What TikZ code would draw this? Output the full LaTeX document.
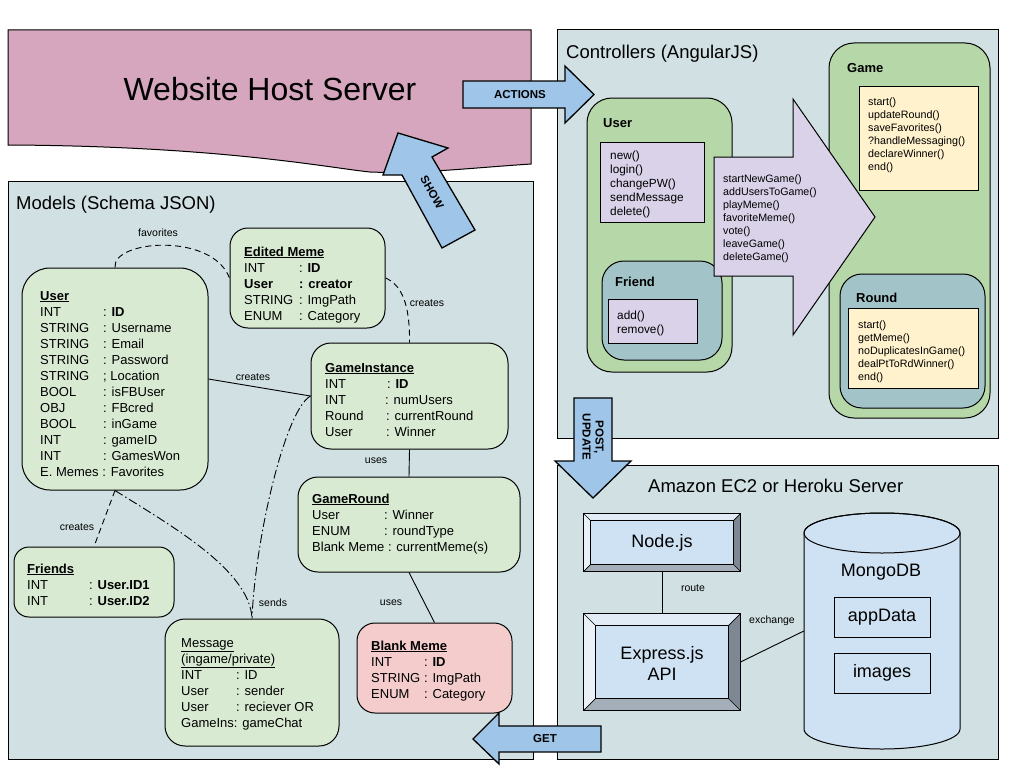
\documentclass[tikz,border=0pt]{standalone}
\usepackage{fontspec}
\setmainfont{Liberation Sans}
\usetikzlibrary{calc}
\definecolor{panelc}{HTML}{D0E0E3}
\definecolor{webc}{HTML}{D5A6BD}
\definecolor{mgreen}{HTML}{D9EAD3}
\definecolor{mpink}{HTML}{F4CCCC}
\definecolor{cgreen}{HTML}{B6D7A8}
\definecolor{cteal}{HTML}{A2C4C9}
\definecolor{cyellow}{HTML}{FFF2CC}
\definecolor{cpurple}{HTML}{D9D2E9}
\definecolor{arrowc}{HTML}{9FC5E8}
\definecolor{srvc}{HTML}{CFE2F3}
\definecolor{bvlight}{HTML}{E2ECF6}
\definecolor{bvlighter}{HTML}{EAF1F8}
\definecolor{bvdark}{HTML}{7D8893}
\definecolor{bvmid}{HTML}{A3AEB9}

\newcommand\fld[3]{\makebox[#1][l]{#2}#3}
\newcommand\rows[1]{\begin{tabular}[t]{@{}l@{}}#1\end{tabular}}
\newcommand\bevel[2]{%
 \fill[bvlight] (#1.north west) -- (#1.north east) -- ([shift={(-#2,#2)}]#1.north east) -- ([shift={(#2,#2)}]#1.north west) -- cycle;
 \fill[bvlighter] (#1.north west) -- ([shift={(#2,#2)}]#1.north west) -- ([shift={(#2,-#2)}]#1.south west) -- (#1.south west) -- cycle;
 \fill[bvdark] (#1.north east) -- (#1.south east) -- ([shift={(-#2,-#2)}]#1.south east) -- ([shift={(-#2,#2)}]#1.north east) -- cycle;
 \fill[bvmid] (#1.south west) -- (#1.south east) -- ([shift={(-#2,-#2)}]#1.south east) -- ([shift={(#2,-#2)}]#1.south west) -- cycle;
 \draw[line width=0.7pt] ([shift={(#2,#2)}]#1.north west) rectangle ([shift={(-#2,-#2)}]#1.south east);
 \draw[line width=0.7pt] (#1.north west) -- ([shift={(#2,#2)}]#1.north west)
   (#1.north east) -- ([shift={(-#2,#2)}]#1.north east)
   (#1.south west) -- ([shift={(#2,-#2)}]#1.south west)
   (#1.south east) -- ([shift={(-#2,-#2)}]#1.south east);
 \draw[line width=1pt] (#1.north west) rectangle (#1.south east);
}

\tikzset{
 panel/.style={draw=black, fill=panelc, line width=1pt, inner sep=0pt, rectangle},
 box/.style={draw=black, line width=1pt, inner sep=0pt, rectangle},
 mbox/.style={box, fill=mgreen, rounded corners=18pt},
 fields/.style={inner sep=0pt, anchor=base west, font=\fontsize{13}{16}\selectfont},
 ptitle/.style={inner sep=0pt, anchor=base west, font=\fontsize{18.5}{22}\selectfont},
 lbl/.style={inner sep=0pt, font=\fontsize{10.5}{12}\selectfont},
 fn/.style={inner sep=0pt, anchor=base west, font=\fontsize{10.7}{13}\selectfont},
 fnb/.style={inner sep=0pt, anchor=base west, font=\fontsize{11.8}{14}\selectfont},
 ctitle/.style={inner sep=0pt, anchor=base west, font=\fontsize{13}{15}\selectfont\bfseries},
 arr/.style={draw=black, fill=arrowc, line width=1.3pt, line join=miter},
 arrtxt/.style={inner sep=0pt, font=\fontsize{11.5}{13}\selectfont\bfseries},
 conn/.style={draw=black, line width=0.9pt},
 dashconn/.style={conn, dash pattern=on 6pt off 4pt},
 dotdash/.style={conn, dash pattern=on 9pt off 3pt on 1.5pt off 3pt},
 bigtxt/.style={font=\fontsize{18}{21}\selectfont, align=center, inner sep=0pt},
}

\begin{document}
\begin{tikzpicture}[x=1pt,y=-1pt]
\useasboundingbox (0,0) rectangle (1024,768);
\fill[white] (0,0) rectangle (1024,768);

% ---------- panels ----------
\node[panel, minimum width=525pt, minimum height=578pt] (models) at (270.5,470) {};
\node[panel, minimum width=441pt, minimum height=408pt] (ctrl) at (777.5,234) {};
\node[panel, minimum width=441pt, minimum height=294pt] (amazon) at (777.5,612) {};

% ---------- website host server ----------
\path[draw=black, fill=webc, line width=1pt] (8,30) -- (531,30) -- (531,164)
  .. controls (470,168) and (420,174) .. (370,172)
  .. controls (330,168) and (220,146) .. (8,145) -- cycle;
\node[inner sep=0pt, anchor=base, font=\fontsize{32}{36}\selectfont] (web) at (270,100) {Website Host Server};

% ---------- titles ----------
\node[ptitle] (tmodels) at (16,209) {Models (Schema JSON)};
\node[ptitle] (tctrl) at (566,58.5) {Controllers (AngularJS)};
\node[ptitle] (tamazon) at (648,492) {Amazon EC2 or Heroku Server};

% ---------- models ----------
\node[mbox, minimum width=155pt, minimum height=100pt] (edited) at (307.5,278) {};
\node[mbox, rounded corners=28pt, minimum width=186pt, minimum height=222pt] (user) at (115,379) {};
\node[mbox, rounded corners=20pt, minimum width=197pt, minimum height=106pt] (gi) at (409.5,396) {};
\node[mbox, rounded corners=20pt, minimum width=222pt, minimum height=95pt] (gr) at (409,524.5) {};
\node[mbox, rounded corners=15pt, minimum width=160pt, minimum height=70pt] (friends) at (94,582) {};
\node[mbox, rounded corners=20pt, minimum width=174pt, minimum height=127pt] (msg) at (252,682.5) {};
\node[mbox, fill=mpink, minimum width=155pt, minimum height=90pt] (blank) at (434.5,668) {};

\node[fields] (tedited) at (244,256) {\rows{\underline{\textbf{Edited Meme}}\\
 \fld{55pt}{INT}{: \textbf{ID}}\\
 \textbf{\fld{55pt}{User}{: creator}}\\
 \fld{55pt}{STRING}{: ImgPath}\\
 \fld{55pt}{ENUM}{: Category}}};
\node[fields] (tuser) at (40,300) {\rows{\underline{\textbf{User}}\\
 \fld{63pt}{INT}{: \textbf{ID}}\\
 \fld{63pt}{STRING}{: Username}\\
 \fld{63pt}{STRING}{: Email}\\
 \fld{63pt}{STRING}{: Password}\\
 \fld{63pt}{STRING}{; Location}\\
 \fld{63pt}{BOOL}{: isFBUser}\\
 \fld{63pt}{OBJ}{: FBcred}\\
 \fld{63pt}{BOOL}{: inGame}\\
 \fld{63pt}{INT}{: gameID}\\
 \fld{63pt}{INT}{: GamesWon}\\
 E. Memes : Favorites}};
\node[fields] (tgi) at (325,372) {\rows{\underline{\textbf{GameInstance}}\\
 \fld{62pt}{INT}{: \textbf{ID}}\\
 \fld{60pt}{INT}{: numUsers}\\
 \fld{61pt}{Round}{: currentRound}\\
 \fld{61pt}{User}{: Winner}}};
\node[fields] (tgr) at (312,503) {\rows{\underline{\textbf{GameRound}}\\
 \fld{72pt}{User}{: Winner}\\
 \fld{72pt}{ENUM}{: roundType}\\
 Blank Meme : currentMeme(s)}};
\node[fields] (tfriends) at (27,573) {\rows{\underline{\textbf{Friends}}\\
 \fld{62pt}{INT}{: \textbf{User.ID1}}\\
 \fld{62pt}{INT}{: \textbf{User.ID2}}}};
\node[fields] (tmsg) at (181,647) {\rows{\underline{Message}\\
 \underline{(ingame/private)}\\
 \fld{55pt}{INT}{: ID}\\
 \fld{55pt}{User}{: sender}\\
 \fld{55pt}{User}{: reciever OR}\\
 GameIns: gameChat}};
\node[fields] (tblank) at (371,650) {\rows{\underline{\textbf{Blank Meme}}\\
 \fld{53pt}{INT}{: \textbf{ID}}\\
 \fld{53pt}{STRING}{: ImgPath}\\
 \fld{53pt}{ENUM}{: Category}}};

% model connectors
\draw[dashconn] (user.north) .. controls (112,240) and (212,232) .. (edited.west);
\draw[dashconn] (edited.east) .. controls (402,285) and (410,305) .. (gi.north);
\draw[conn] (user.east) -- (gi.west);
\draw[conn] (gi.south) -- (gr.north);
\draw[conn] (gr.south) -- (blank.north);
\draw[dashconn] (user.south) -- (friends.north);
\draw[dotdash] (user.south) .. controls (170,525) and (250,570) .. (msg.north);
\draw[dotdash] (gi.west) .. controls (285,410) and (255,540) .. (msg.north);

\node[lbl] (lfav) at (158,233) {favorites};
\node[lbl] (lcr1) at (427,303) {creates};
\node[lbl] (lcr2) at (253,377) {creates};
\node[lbl] (luse1) at (376,461) {uses};
\node[lbl] (lcr3) at (77,527) {creates};
\node[lbl] (lsend) at (273,603) {sends};
\node[lbl] (luse2) at (391,603) {uses};

% ---------- controllers ----------
\node[box, fill=cgreen, rounded corners=25pt, minimum width=161pt, minimum height=375pt] (gamec) at (909.5,230.5) {};
\node[box, fill=cyellow, minimum width=119pt, minimum height=104pt] (gamey) at (918.5,138) {};
\node[box, fill=cteal, rounded corners=22pt, minimum width=145pt, minimum height=134pt] (roundc) at (912.5,341) {};
\node[box, fill=cyellow, minimum width=130pt, minimum height=80pt] (roundy) at (913,348) {};
\node[box, fill=cgreen, rounded corners=25pt, minimum width=145pt, minimum height=274pt] (userc) at (659.5,235) {};
\node[box, fill=cpurple, minimum width=104pt, minimum height=80pt] (userp) at (652,182) {};
\node[box, fill=cteal, rounded corners=22pt, minimum width=120pt, minimum height=99pt] (friendc) at (662,310.5) {};
\node[box, fill=cpurple, minimum width=89pt, minimum height=44pt] (friendp) at (652.5,321) {};
\path[draw=black, fill=cpurple, line width=1pt, line join=miter]
  (714,157) -- (793,157) -- (793,99) -- (875,217) -- (793,335) -- (793,276) -- (714,276) -- cycle;

\node[ctitle] (lgame) at (847,72.5) {Game};
\node[ctitle] (lround) at (856,302.5) {Round};
\node[ctitle] (luser) at (603,127.5) {User};
\node[ctitle] (lfriend) at (615,286.5) {Friend};
\node[fn] (tgamey) at (868,105) {\rows{start()\\updateRound()\\saveFavorites()\\?handleMessaging()\\declareWinner()\\end()}};
\node[fn] (troundy) at (858,328) {\rows{start()\\getMeme()\\noDuplicatesInGame()\\dealPtToRdWinner()\\end()}};
\node[fnb] (tuserp) at (610,159) {\rows{new()\\login()\\changePW()\\sendMessage\\delete()}};
\node[fnb] (tfriendp) at (617,319) {\rows{add()\\remove()}};
\node[fn] (tbigarrow) at (723,182) {\rows{startNewGame()\\addUsersToGame()\\playMeme()\\favoriteMeme()\\vote()\\leaveGame()\\deleteGame()}};

% ---------- amazon ----------
\node[box, fill=srvc, minimum width=156pt, minimum height=57pt, bigtxt] (nodejs) at (662,542.5) {};
\bevel{nodejs}{7}
\node[bigtxt] (tnodejs) at (662,543) {Node.js};
\node[box, fill=srvc, minimum width=156pt, minimum height=96pt] (express) at (662,662) {};
\bevel{express}{12}
\node[bigtxt] (texpress) at (662,663) {Express.js\\API};

\node[inner sep=0pt, minimum width=156pt, minimum height=236pt] (mongo) at (882,631) {};
\path[draw=black, fill=srvc, line width=1pt] (804,533) -- (804,729)
  arc[start angle=180, end angle=0, x radius=78, y radius=20] -- (960,533)
  arc[start angle=0, end angle=-180, x radius=78, y radius=20] -- cycle;
\draw[line width=1pt] (882,533) ellipse [x radius=78, y radius=20];
\node[bigtxt] (tmongo) at (881,572) {MongoDB};
\node[box, fill=srvc, minimum width=96pt, minimum height=40pt, bigtxt] (appdata) at (882,617) {appData};
\node[box, fill=srvc, minimum width=96pt, minimum height=40pt, bigtxt] (images) at (882,673) {images};

\draw[conn] (nodejs.south) -- (express.north);
\draw[conn] (express.east) -- (mongo.west);
\node[lbl] (lroute) at (693,588) {route};
\node[lbl] (lexch) at (772,621) {exchange};

% ---------- block arrows ----------
\path[arr] (463,81) -- (565,81) -- (565,66) -- (594,94.5) -- (565,123) -- (565,108) -- (463,108) -- cycle;
\node[arrtxt] (tactions) at (520,95) {ACTIONS};
\path[arr] (398,133) -- (448,148) -- (432,157) -- (475,230) -- (442,248) -- (402,175) -- (383,175) -- cycle;
\node[arrtxt, rotate=-60.5] (tshow) at (432,192) {SHOW};
\path[arr] (574,398) -- (612,398) -- (612,461) -- (631,461) -- (593,498) -- (555,461) -- (574,461) -- cycle;
\node[arrtxt, rotate=-90, align=center] (tpost) at (593,437) {POST,\\UPDATE};
\path[arr] (473,739) -- (499,713) -- (499,726) -- (601,726) -- (601,752) -- (499,752) -- (499,764) -- cycle;
\node[arrtxt] (tget) at (545,739) {GET};
\end{tikzpicture}
\end{document}
